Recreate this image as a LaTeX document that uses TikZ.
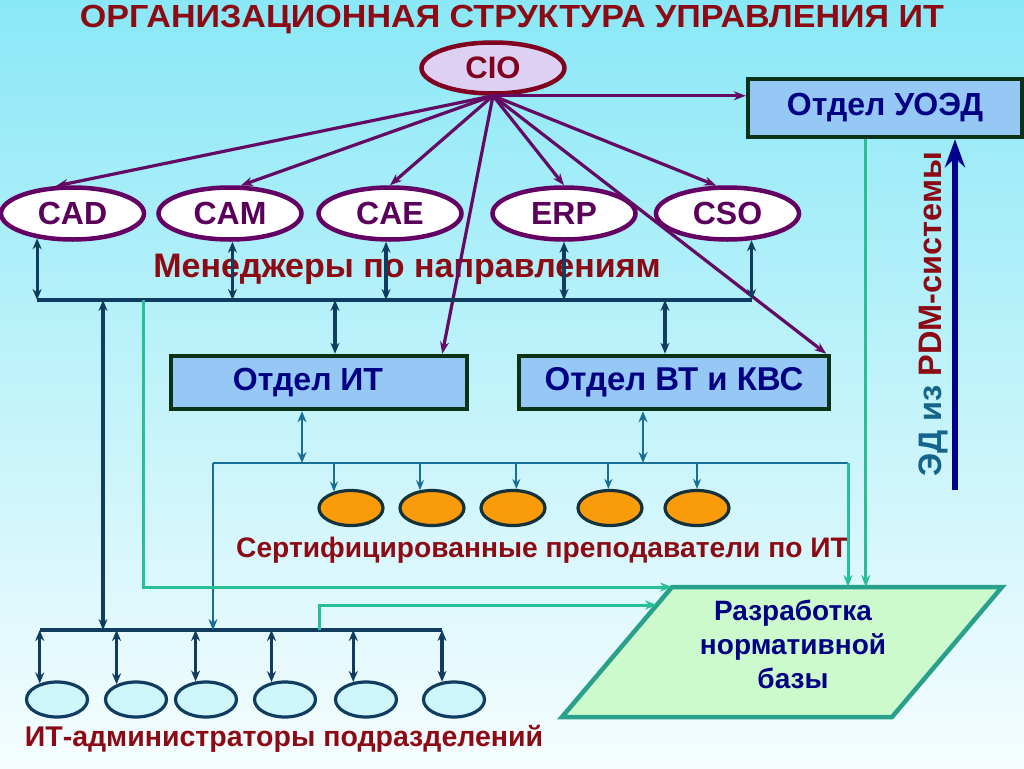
\documentclass[tikz,border=0pt]{standalone}
\usepackage{fontspec}
\usepackage{graphicx}
\setmainfont{Liberation Sans}
\usetikzlibrary{arrows.meta,shapes.geometric,calc}
\definecolor{dred}{RGB}{140,10,20}
\definecolor{ciob}{RGB}{128,0,32}
\definecolor{ciof}{RGB}{222,208,242}
\definecolor{purp}{RGB}{100,10,100}
\definecolor{ellb}{RGB}{100,0,100}
\definecolor{ellt}{RGB}{90,0,90}
\definecolor{boxf}{RGB}{150,200,245}
\definecolor{boxb}{RGB}{10,50,20}
\definecolor{navyt}{RGB}{0,0,130}
\definecolor{busc}{RGB}{15,60,95}
\definecolor{certc}{RGB}{25,110,150}
\definecolor{tealc}{RGB}{40,190,150}
\definecolor{parf}{RGB}{205,250,205}
\definecolor{parb}{RGB}{40,160,140}
\definecolor{orangef}{RGB}{250,155,10}
\definecolor{orangeb}{RGB}{20,50,60}
\definecolor{admf}{RGB}{205,245,250}
\definecolor{navya}{RGB}{0,0,140}
\definecolor{edc}{RGB}{20,100,140}
\definecolor{bgtop}{RGB}{138,232,246}
\definecolor{bgmid}{RGB}{185,243,250}
\definecolor{bgbot}{RGB}{246,253,254}
\begin{document}
\begin{tikzpicture}[x=1pt,y=-1pt,
  bf/.style={font=\bfseries\fontsize{#1}{#1}\selectfont},
  cioell/.style={ellipse,draw=ciob,fill=ciof,line width=4.5pt,minimum width=143pt,minimum height=51pt,inner sep=0pt,text=ciob,bf=31},
  mgrell/.style={ellipse,draw=ellb,fill=white,line width=4.5pt,minimum width=143pt,minimum height=52pt,inner sep=0pt,text=ellt,bf=32},
  deptbox/.style={rectangle,draw=boxb,fill=boxf,line width=4.5pt,inner sep=0pt,text=navyt,bf=32},
  orell/.style={ellipse,draw=orangeb,fill=orangef,line width=3.2pt,minimum width=64pt,minimum height=35pt,inner sep=0pt},
  admell/.style={ellipse,draw=busc,fill=admf,line width=3.2pt,minimum width=61pt,minimum height=35pt,inner sep=0pt},
  plink/.style={draw=purp,line width=3.2pt,-{Stealth[length=12pt,width=9pt]}},
  busline/.style={draw=busc,line width=3.2pt},
  dbl/.style={draw=busc,line width=3.2pt,{Stealth[length=11pt,width=9pt]}-{Stealth[length=11pt,width=9pt]}},
  cline/.style={draw=certc,line width=2.8pt},
  cdbl/.style={draw=certc,line width=2.8pt,{Stealth[length=11pt,width=9pt]}-{Stealth[length=11pt,width=9pt]}},
  carrow/.style={draw=certc,line width=2.2pt,-{Stealth[length=10pt,width=8pt]}},
  tline/.style={draw=tealc,line width=3pt,-{Stealth[length=12pt,width=9pt]}},
  navyarrow/.style={draw=navya,line width=5.5pt,-{Stealth[length=28pt,width=20pt]}},
  lbl/.style={text=dred,anchor=base,inner sep=0pt}
]
\useasboundingbox (0,0) rectangle (1024,768);
\shade[top color=bgtop,middle color=bgmid,bottom color=bgbot] (0,0) rectangle (1024,768);

% title
\node[lbl,bf=32] (title) at (512,28) {\resizebox{864pt}{\height}{ОРГАНИЗАЦИОННАЯ СТРУКТУРА УПРАВЛЕНИЯ ИТ}};

% nodes
\node[cioell] (cio) at (493,68) {CIO};
\node[deptbox,minimum width=274pt,minimum height=58pt] (uoed) at (885,108) {Отдел УОЭД};

\node[mgrell] (cad) at (72.5,213.5) {CAD};
\node[mgrell] (cam) at (230,213.5) {CAM};
\node[mgrell] (cae) at (390,213.5) {CAE};
\node[mgrell] (erp) at (564,213.5) {ERP};
\node[mgrell] (cso) at (727.5,213.5) {CSO};

\node[lbl,bf=34] (mgr) at (407,277) {Менеджеры по направлениям};

\node[deptbox,minimum width=296pt,minimum height=53pt] (it) at (319,382.5) {\hspace*{-22pt}Отдел ИТ};
\node[deptbox,minimum width=310pt,minimum height=53pt,bf=33] (vt) at (674,382.5) {Отдел ВТ и КВС};

\node[orell] (o1) at (351,508) {};
\node[orell] (o2) at (432,508) {};
\node[orell] (o3) at (513,508) {};
\node[orell] (o4) at (610,508) {};
\node[orell] (o5) at (697,508) {};

\node[lbl,bf=28.2] (cert) at (542,557) {Сертифицированные преподаватели по ИТ};

\node[admell] (e1) at (57,699.5) {};
\node[admell] (e2) at (136,699.5) {};
\node[admell] (e3) at (206,699.5) {};
\node[admell] (e4) at (285,699.5) {};
\node[admell] (e5) at (366,699.5) {};
\node[admell] (e6) at (454,699.5) {};

\node[lbl,bf=28.5] (adm) at (284,746) {ИТ-администраторы подразделений};

% parallelogram
\coordinate (ptl) at (672,587);
\coordinate (ptr) at (1002,587);
\coordinate (pbr) at (892,717);
\coordinate (pbl) at (562,717);
\draw[draw=parb,fill=parf,line width=4.5pt,line join=miter] (ptl) -- (ptr) -- (pbr) -- (pbl) -- cycle;
\node[align=center,text=navyt,bf=28,inner sep=0pt] (norm) at (793,644) {Разработка\\[6pt]нормативной\\[6pt]базы};

% rotated label
\node[rotate=90,anchor=base,inner sep=0pt,bf=32.5] (pdmtxt) at (941,314) {\textcolor{edc}{ЭД из} \textcolor{dred}{PDM-системы}};

% CIO links
\draw[plink] (cio.south) -- (cio.south -| uoed.west);
\draw[plink] (cio.south) -- (cad.121);
\draw[plink] (cio.south) -- (cam.69);
\draw[plink] (cio.south) -- (cae.north);
\draw[plink] (cio.south) -- (erp.north);
\draw[plink] (cio.south) -- (cso.112);
\draw[plink] (cio.south) -- ([xshift=-27pt]it.north east);
\draw[plink] (cio.south) -- ([xshift=-5pt]vt.north east);

% managers bus
\coordinate (mY) at (0,300);
\draw[busline] (cad.-145 |- mY) -- (cso.-48 |- mY);
\draw[dbl] (cad.-145) -- (cad.-145 |- mY);
\draw[dbl] (cam.-85) -- (cam.-85 |- mY);
\draw[dbl] (cae.-98) -- (cae.-98 |- mY);
\draw[dbl] (erp.south) -- (erp.south |- mY);
\draw[dbl] (cso.-48) -- (cso.-48 |- mY);
\coordinate (j335) at (335,300);
\coordinate (j665) at (665,300);
\draw[dbl] (j335) -- (j335 |- it.north);
\draw[dbl] (j665) -- (j665 |- vt.north);

% admin bus
\coordinate (aY) at (0,630);
\draw[busline] (e1.137 |- aY) -- (e6.124 |- aY);
\draw[dbl] (e1.137 |- aY) -- (e1.137);
\draw[dbl] (e2.142 |- aY) -- (e2.142);
\draw[dbl] (e3.120 |- aY) -- (e3.120);
\draw[dbl] (e4.128 |- aY) -- (e4.128);
\draw[dbl] (e5.126 |- aY) -- (e5.126);
\draw[dbl] (e6.124 |- aY) -- (e6.124);
\coordinate (j103) at (103,300);
\draw[dbl] (j103) -- (j103 |- aY);

% cert bus
\coordinate (cL) at (213,463);
\coordinate (cR) at (848,463);
\draw[cline] (cL) -- (cR);
\coordinate (j302) at (302,463);
\coordinate (j643) at (643,463);
\draw[cdbl] (j302 |- it.south) -- (j302);
\draw[cdbl] (j643 |- vt.south) -- (j643);
\draw[carrow] (o1.136 |- cL) -- (o1.136);
\draw[carrow] (o2.124 |- cL) -- (o2.124);
\draw[carrow] (o3.80 |- cL) -- (o3.80);
\draw[carrow] (o4.95 |- cL) -- (o4.95);
\draw[carrow] (o5.north |- cL) -- (o5.north);
\draw[carrow,line width=2.8pt,-{Stealth[length=11pt,width=9pt]}] (cL) -- (cL |- aY);

% teal links to parallelogram
\coordinate (j143) at (143,300);
\draw[tline] (j143) |- (ptl);
\coordinate (j319) at (319,630);
\coordinate (pin) at (657,605);
\draw[tline] (j319) |- (pin);
\draw[tline] (cR) -- (cR |- ptl);
\coordinate (u868) at ($(uoed.south west)+(120,0)$);
\draw[tline] (u868) -- (u868 |- ptl);

% PDM arrow
\coordinate (pdm) at (955,490);
\draw[navyarrow] (pdm) -- (pdm |- uoed.south);
\end{tikzpicture}
\end{document}
